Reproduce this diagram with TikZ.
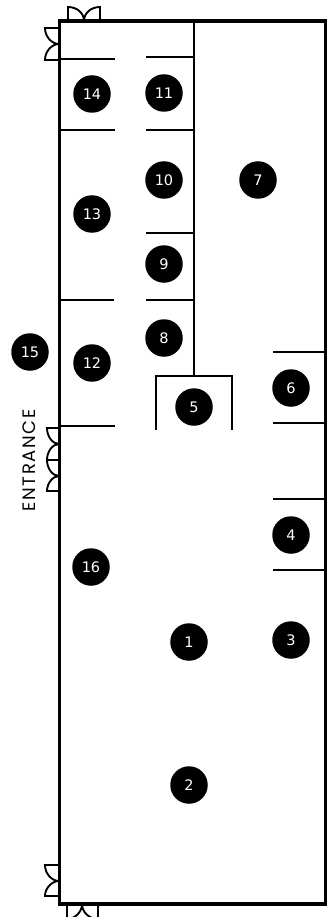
\documentclass[tikz,border=0pt]{standalone}
\usepackage{fontspec}
\setmainfont{DejaVu Sans}
\newfontfamily\entrancefont[LetterSpace=9]{Poppins}
\tikzset{
  mark dot/.style={circle,fill=black,text=white,minimum size=37.5pt,inner sep=0pt,font=\fontsize{14.5}{16}\selectfont},
  outerwall/.style={line width=3.4pt,line cap=rect,line join=miter},
  innerwall/.style={line width=2.3pt},
  doorleaf/.style={line width=1.9pt}
}
\begin{document}
\begin{tikzpicture}[x=1pt,y=-1pt]
\useasboundingbox (0,0) rectangle (335,917);
% doors
\draw[doorleaf] (84,21) .. controls (84,13) and (77,7) .. (68,7) -- (68,21);
\draw[doorleaf] (84,21) .. controls (84,13) and (91,7) .. (100,7) -- (100,21);
\draw[doorleaf] (59,44) .. controls (52,44) and (45,37) .. (45,28) -- (59,28);
\draw[doorleaf] (59,44) .. controls (52,44) and (45,51) .. (45,60) -- (59,60);
\draw[doorleaf] (59,444) .. controls (53,444) and (47,437) .. (47,428) -- (59,428);
\draw[doorleaf] (59,444) .. controls (53,444) and (47,451) .. (47,460) -- (59,460);
\draw[doorleaf] (59,476) .. controls (53,476) and (47,469) .. (47,460);
\draw[doorleaf] (59,476) .. controls (53,476) and (47,483) .. (47,491) -- (59,491);
\draw[doorleaf] (59,881) .. controls (52,881) and (45,874) .. (45,865) -- (59,865);
\draw[doorleaf] (59,881) .. controls (52,881) and (45,888) .. (45,896) -- (59,896);
\draw[doorleaf] (67,904) -- (67,917);
\draw[doorleaf] (98,904) -- (98,917);
\draw[doorleaf] (82,904) .. controls (82,912) and (75,919) .. (67,919);
\draw[doorleaf] (82,904) .. controls (82,912) and (89,919) .. (98,919);
% inner walls
\draw[innerwall] (194,21) -- (194,375);
\draw[innerwall] (156,430) -- (156,376) -- (232,376) -- (232,430);
\foreach \yy in {352,423,499,570} \draw[innerwall] (273,\yy) -- (325,\yy);
\foreach \yy/\xe in {59/115,130/115,300/114,426/115} \draw[innerwall] (60,\yy) -- (\xe,\yy);
\foreach \yy in {57,130,233,300} \draw[innerwall] (146,\yy) -- (194,\yy);
% outer wall
\draw[outerwall] (59.5,21) rectangle (325.5,904);
% markers
\foreach \n/\cx/\cy in {14/92/94,11/164/93,10/164/180,7/258/180,13/92/214,9/164/264,8/164/338,15/30/352,12/92/363,6/291/388,5/194/407,4/291/535,16/91/567,1/189/642,3/291/640,2/189/785}
  \node[mark dot] (m\n) at (\cx,\cy) {\n};
\node[rotate=90,font=\entrancefont\fontsize{18}{20}\selectfont] (entrance) at (29,460.5) {ENTRANCE};
\end{tikzpicture}
\end{document}
